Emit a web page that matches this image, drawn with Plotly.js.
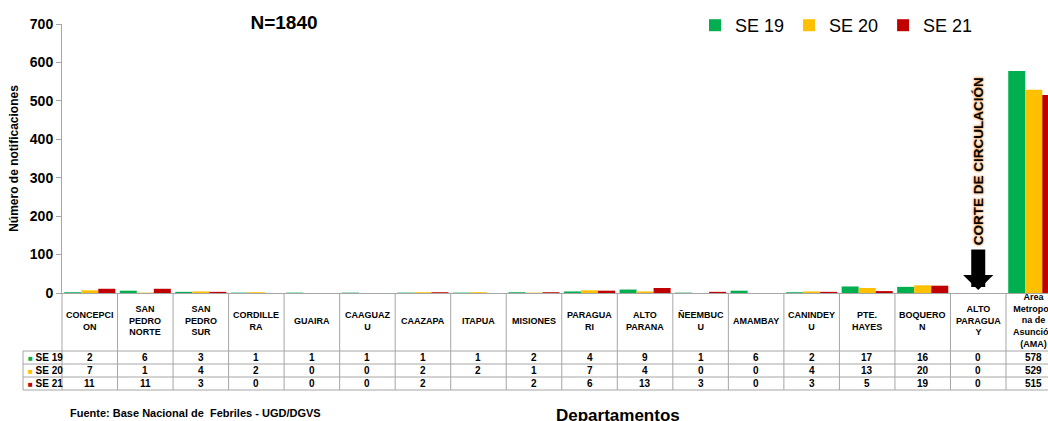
<!DOCTYPE html>
<html><head><meta charset="utf-8">
<script src="https://cdn.plot.ly/plotly-3.0.1.min.js"></script>
<style>html,body{margin:0;padding:0;background:#fff}#chart{width:1048px;height:421px}</style>
</head><body><div id="chart"></div>
<script>
// ---- data ----
const categories = ['CONCEPCION','SAN PEDRO NORTE','SAN PEDRO SUR','CORDILLERA','GUAIRA','CAAGUAZU','CAAZAPA','ITAPUA','MISIONES','PARAGUARI','ALTO PARANA','ÑEEMBUCU','AMAMBAY','CANINDEYU','PTE. HAYES','BOQUERON','ALTO PARAGUAY','Area Metropolitana de Asunción (AMA)'];
const headerLabels = ['CONCEPCI<br>ON','SAN<br>PEDRO<br>NORTE','SAN<br>PEDRO<br>SUR','CORDILLE<br>RA','GUAIRA','CAAGUAZ<br>U','CAAZAPA','ITAPUA','MISIONES','PARAGUA<br>RI','ALTO<br>PARANA','ÑEEMBUC<br>U','AMAMBAY','CANINDEY<br>U','PTE.<br>HAYES','BOQUERO<br>N','ALTO<br>PARAGUA<br>Y','Area<br>Metropoli<br>na de<br>Asunción<br>(AMA)'];
const se19 = [2,6,3,1,1,1,1,1,2,4,9,1,6,2,17,16,0,578];
const se20 = [7,1,4,2,0,0,2,2,1,7,4,0,0,4,13,20,0,529];
const se21 = [11,11,3,0,0,0,2,null,2,6,13,3,0,3,5,19,0,515];
const seriesNames = ['SE 19','SE 20','SE 21'];
const seriesColors = ['#00B050','#FFC000','#C00000'];
const yTicks = [0,100,200,300,400,500,600,700];
const titleText = 'N=1840';
const yTitle = 'Número de notificaciones';
const xTitle = 'Departamentos';
const sourceText = 'Fuente: Base Nacional de\u00a0 Febriles - UGD/DGVS';
const cutLabel = 'CORTE DE CIRCULACIÓN';
const cutCategory = 'ALTO PARAGUAY';

// ---- layout constants ----
const W = 1048, H = 421;
const M = {l:62, r:0, t:24, b:128};
const plotW = W - M.l - M.r, plotH = H - M.t - M.b;
const colW = 55.53;
const FONT = 'Liberation Sans, Arial, sans-serif';
const GRID = '#A6A6A6';
const px2x = p => (p - M.l) / plotW;
const py2y = p => (H - M.b - p) / plotH;

const series = [se19, se20, se21];
const traces = series.map((vals, k) => ({
  type: 'bar', name: seriesNames[k], x: categories, y: vals,
  marker: {color: seriesColors[k]}, hoverinfo: 'skip'
}));

// table geometry (pixels)
const rowLines = [351, 364, 377, 390];
const rowCenters = [357.5, 370.5, 383.5];
const headerCenter = 321;
const tableLeft = 23;

const shapes = [];
for (let i = 1; i < categories.length; i++) {
  shapes.push({type:'line', xref:'x', yref:'paper', x0:i-0.5, x1:i-0.5, y0:py2y(H-M.b), y1:py2y(rowLines[3]), line:{color:GRID, width:1}});
}
shapes.push({type:'line', xref:'paper', yref:'paper', x0:0, x1:0, y0:0, y1:py2y(rowLines[3]), line:{color:GRID, width:1}});
shapes.push({type:'line', xref:'paper', yref:'paper', x0:px2x(tableLeft), x1:px2x(tableLeft), y0:py2y(rowLines[0]), y1:py2y(rowLines[3]), line:{color:GRID, width:1}});
rowLines.forEach(r => shapes.push({type:'line', xref:'paper', yref:'paper', x0:px2x(tableLeft), x1:1.05, y0:py2y(r), y1:py2y(r), line:{color:GRID, width:1}}));

const annotations = [];
categories.forEach((c, i) => {
  annotations.push({xref:'x', yref:'paper', x:c, y:py2y(headerCenter), text:headerLabels[i], showarrow:false,
    xanchor:'center', yanchor:'middle', align:'center', font:{family:FONT, size:9, color:'#000', weight:'bold'}});
  series.forEach((vals, k) => {
    annotations.push({xref:'x', yref:'paper', x:c, y:py2y(rowCenters[k]), text: vals[i] === null ? '' : String(vals[i]), showarrow:false,
      xanchor:'center', yanchor:'middle', font:{family:FONT, size:10, color:'#000', weight:'bold'}});
  });
});
seriesNames.forEach((n, k) => {
  annotations.push({xref:'paper', yref:'paper', x:px2x(tableLeft+3), y:py2y(rowCenters[k]), xanchor:'left', yanchor:'middle', showarrow:false,
    text:'<span style="color:' + seriesColors[k] + ';font-size:8px">■</span> ' + n,
    font:{family:FONT, size:10, color:'#000', weight:'bold'}});
});
// cut annotation + arrow
annotations.push({xref:'x', yref:'paper', x:cutCategory, y:py2y(161), text:cutLabel, textangle:-90, showarrow:false,
  xanchor:'center', yanchor:'middle', font:{family:FONT, size:13.5, color:'#000', weight:'bold', shadow:'0 0 3px #E8964A, 0 0 2px #E8964A'}});
annotations.push({xref:'x', yref:'y', x:cutCategory, y:0, text:'', showarrow:true, ax:0, ay:-45,
  arrowhead:1, arrowwidth:14, arrowsize:0.36, arrowcolor:'#000', standoff:3});
// source + x title
annotations.push({xref:'paper', yref:'paper', x:px2x(68), y:py2y(413), xanchor:'left', yanchor:'middle', showarrow:false,
  text:sourceText, font:{family:FONT, size:11, color:'#000', weight:'bold'}});
annotations.push({xref:'paper', yref:'paper', x:px2x(618), y:py2y(415), xanchor:'center', yanchor:'middle', showarrow:false,
  text:xTitle, font:{family:FONT, size:17, color:'#000', weight:'bold'}});

const layout = {
  width: W, height: H, margin: M, paper_bgcolor:'#fff', plot_bgcolor:'#fff',
  font:{family:FONT, color:'#000'},
  title:{text:titleText, x:284/W, xref:'container', xanchor:'center', y:1-22/H, yref:'container', yanchor:'middle',
    font:{family:FONT, size:19, color:'#000', weight:'bold'}},
  barmode:'group', bargap:0.08, bargroupgap:0,
  xaxis:{type:'category', range:[-0.5, -0.5 + plotW/colW], showticklabels:false, ticks:'', showline:true, linecolor:GRID, linewidth:1,
    showgrid:false, zeroline:false, fixedrange:true},
  yaxis:{range:[0,700], tickvals:yTicks, ticks:'outside', ticklen:5, tickcolor:GRID, showline:true, linecolor:GRID, linewidth:1,
    showgrid:false, zeroline:false, tickfont:{family:FONT, size:14, color:'#000', weight:'bold'},
    title:{text:yTitle, standoff:8, font:{family:FONT, size:12, color:'#000', weight:'bold'}}, fixedrange:true},
  legend:{orientation:'h', x:px2x(695), xanchor:'left', y:1+(M.t-7)/plotH, yanchor:'top', bgcolor:'rgba(0,0,0,0)',
    font:{family:FONT, size:18, color:'#000'}},
  shapes: shapes, annotations: annotations
};
Plotly.newPlot('chart', traces, layout, {displayModeBar:false, staticPlot:true});
</script></body></html>
